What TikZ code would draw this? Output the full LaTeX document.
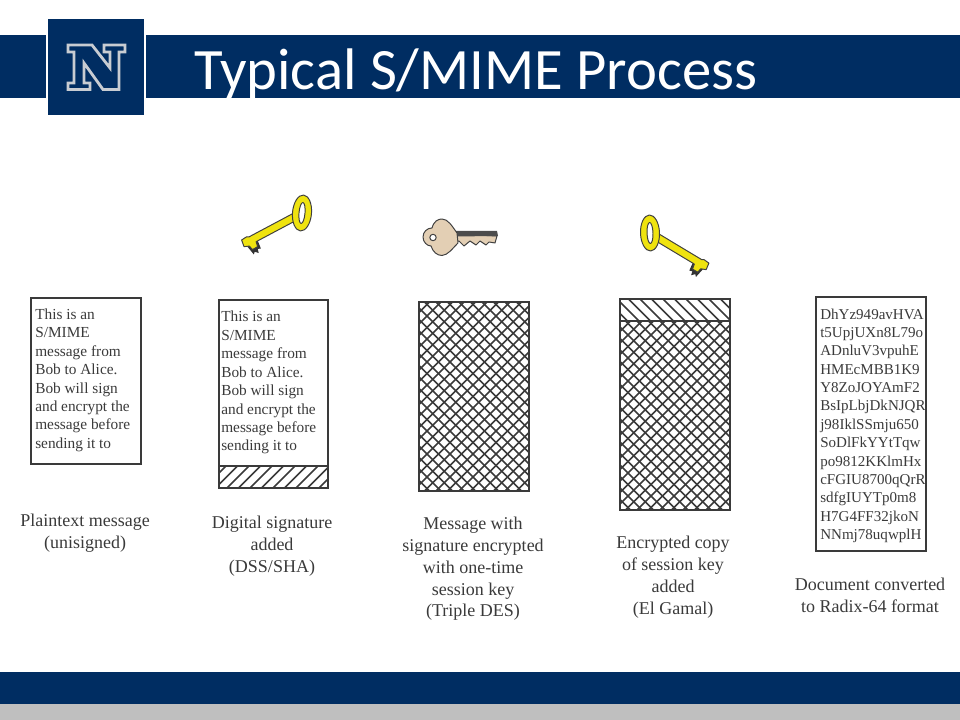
\documentclass[tikz,border=0pt]{standalone}
\usepackage{fontspec}
\setmainfont{Liberation Serif}
\newfontfamily\titlefont{Carlito}
\definecolor{navy}{HTML}{002D62}
\definecolor{rulegray}{HTML}{BFBFBF}
\definecolor{logogray}{HTML}{C8CCD2}
\definecolor{inkgray}{HTML}{3A3A3A}
\definecolor{keygold}{HTML}{EFE30F}
\definecolor{keytan}{HTML}{E3CFB4}
\tikzset{
    msgbox/.style={draw=inkgray, line width=1pt, anchor=north west, inner sep=0pt, outer sep=0pt},
    msgtext/.style={anchor=north west, align=left, inner sep=0pt, text=inkgray, font=\fontsize{10.9}{13.1}\selectfont},
    captext/.style={anchor=north, align=center, inner sep=0pt, text=inkgray, font=\fontsize{12.8}{15.5}\selectfont},
    hatchline/.style={inkgray, line width=1.15pt},
    keyline/.style={draw=black!75, line width=0.7pt, line join=round}
}
% diagonal strokes, clipped to a named region
\newcommand{\hatchfwd}[1]{%
    \begin{scope}
        \clip (#1.south west) rectangle (#1.north east);
        \foreach \d in {-300,-288.5,...,300}
            \draw[hatchline] ([shift={(\d-200,200)}]#1.center) -- ([shift={(\d+200,-200)}]#1.center);
    \end{scope}}
\newcommand{\hatchback}[1]{%
    \begin{scope}
        \clip (#1.south west) rectangle (#1.north east);
        \foreach \d in {-300,-288.5,...,300}
            \draw[hatchline] ([shift={(\d-200,-200)}]#1.center) -- ([shift={(\d+200,200)}]#1.center);
    \end{scope}}
% gold key: ring at the origin, shaft along +x
\newcommand{\goldkey}{%
    \fill[black!80] (52,3) -- (53,12) -- (56,11) -- (57,15) -- (60,12) -- (62,14) -- (64,4) -- cycle;
    \fill[keygold, keyline] (7,-3.8) -- (58,-3.8) -- (60,-5) -- (66,-4.5) -- (67,2.5) -- (62,4.5) -- (61,9) -- (55,9) -- (54,3.8) -- (7,3.8) -- cycle;
    \fill[keygold, keyline, even odd rule, rotate=33] (0,0) ellipse (9.5 and 18) (0,0) ellipse (3 and 10.5);
}
\begin{document}
\begin{tikzpicture}[x=0.025cm, y=-0.025cm]
    \useasboundingbox (0,0) rectangle (960,720);
    % bands
    \fill[navy] (0,35) rectangle (46,98);
    \fill[navy] (146,35) rectangle (960,98);
    \fill[navy] (48,19) rectangle (144,115);
    \fill[navy] (0,672) rectangle (960,704);
    \fill[rulegray] (0,704) rectangle (960,720);
    \draw[logogray, line width=2pt, line join=miter] (68,45) -- (92,45) -- (110,68) -- (110,52) -- (104,52)
        -- (104,45) -- (125,45) -- (125,52) -- (119,52) -- (119,89.5) -- (103,89.5) -- (84,63) -- (84,83)
        -- (90,83) -- (90,89.5) -- (68,89.5) -- (68,83) -- (74,83) -- (74,52) -- (68,52) -- cycle;
    \node[anchor=base west, inner sep=0pt, text=white, font=\titlefont\fontsize{41.7}{42}\selectfont] at (194,89.5) (title) {Typical S/MIME Process};

    % keys
    \begin{scope}[shift={(302,213)}, xscale=-1, rotate=-28]
        \goldkey
    \end{scope}
    \begin{scope}[shift={(650,233)}, rotate=-31]
        \goldkey
    \end{scope}
    \fill[keytan, keyline] (455,234) -- (497,236) -- (495,243) -- (489,242) -- (486,245) -- (480,241) -- (476,245) -- (470,241)
        -- (464,246) -- (459,241) -- (455,242) -- cycle;
    \fill[black!70] (452,231) -- (497,231) -- (498,236) -- (452,236.5) -- cycle;
    \fill[keytan, keyline] (423,237) .. controls (423,232) and (427,228) .. (432,228)
        .. controls (434,221) and (438,219) .. (442,219) .. controls (448,219) and (452,226) .. (457,233)
        -- (458,243) .. controls (452,249) and (448,255) .. (442,255.5) .. controls (437,255.5) and (433,252) .. (431,246)
        .. controls (427,246) and (423,242) .. (423,237) -- cycle;
    \fill[white, keyline] (433,237.5) circle (3.2);

    % boxes
    \node[msgbox, minimum width=110*0.025cm, minimum height=166*0.025cm] at (31,298) (plainbox) {};
    \node[msgbox, minimum width=109*0.025cm, minimum height=188*0.025cm] at (219,300) (signbox) {};
    \node[msgbox, minimum width=109*0.025cm, minimum height=22*0.025cm] at (219,466) (signpart) {};
    \node[msgbox, minimum width=110*0.025cm, minimum height=189*0.025cm] at (419,302) (cryptbox) {};
    \node[msgbox, minimum width=110*0.025cm, minimum height=22*0.025cm] at (620,299) (keypart) {};
    \node[msgbox, minimum width=110*0.025cm, minimum height=189*0.025cm] at (620,321) (cryptpart) {};
    \node[msgbox, minimum width=110*0.025cm, minimum height=254*0.025cm] at (816,297) (radixbox) {};

    \hatchfwd{signpart}
    \hatchfwd{cryptbox}
    \hatchback{cryptbox}
    \hatchback{keypart}
    \hatchfwd{cryptpart}
    \hatchback{cryptpart}
    \draw[msgbox] (signpart.south west) rectangle (signpart.north east);
    \draw[msgbox] (cryptbox.south west) rectangle (cryptbox.north east);
    \draw[msgbox] (keypart.south west) rectangle (keypart.north east);
    \draw[msgbox] (cryptpart.south west) rectangle (cryptpart.north east);

    % texts in the boxes
    \node[msgtext] at (35,308.5) (plaintext) {This is an\\S/MIME\\message from\\Bob to Alice.\\Bob will sign\\and encrypt the\\message before\\sending it to};
    \node[msgtext] at (221,311) (signtext) {This is an\\S/MIME\\message from\\Bob to Alice.\\Bob will sign\\and encrypt the\\message before\\sending it to};
    \node[msgtext, font=\fontsize{10.7}{13.05}\selectfont] at (820,308.5) (radixtext) {DhYz949avHVA\\t5UpjUXn8L79o\\ADnluV3vpuhE\\HMEcMBB1K9\\Y8ZoJOYAmF2\\BsIpLbjDkNJQR\\j98IklSSmju650\\SoDlFkYYtTqw\\po9812KKlmHx\\cFGIU8700qQrR\\sdfgIUYTp0m8\\H7G4FF32jkoN\\NNmj78uqwplH};

    % captions
    \node[captext] at (85,514) (plaincap) {Plaintext message\\(unisigned)};
    \node[captext] at (272,516) (signcap) {Digital signature\\added\\(DSS/SHA)};
    \node[captext] at (473,517) (cryptcap) {Message with\\signature encrypted\\with one-time\\session key\\(Triple DES)};
    \node[captext] at (673,536) (keycap) {Encrypted copy\\of session key\\added\\(El Gamal)};
    \node[captext] at (870,578) (radixcap) {Document converted\\to Radix-64 format};
\end{tikzpicture}
\end{document}
